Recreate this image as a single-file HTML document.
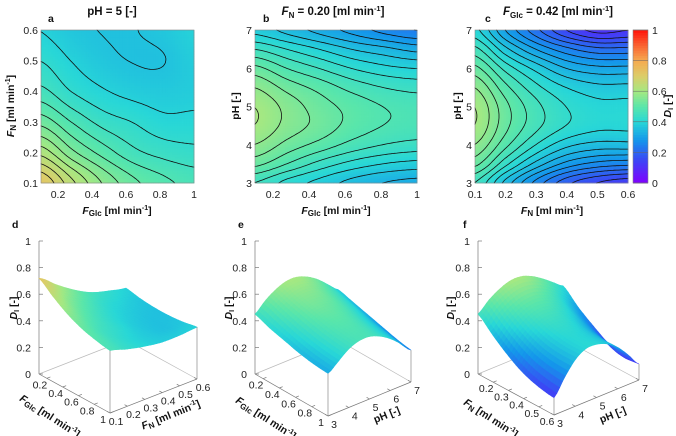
<!DOCTYPE html>
<html><head><meta charset="utf-8">
<style>
body{margin:0;background:#fff;}
svg{display:block;font-family:"Liberation Sans Narrow","Liberation Sans",sans-serif;}
.t{font-size:10.5px;fill:#222;}
.b{font-weight:bold;font-size:11.5px;fill:#111;}
.l{font-weight:bold;font-size:10.5px;fill:#111;}
</style></head><body>
<svg id="fig" width="676" height="436" viewBox="0 0 676 436">
<g id="marks"></g>
<g id="axes"></g>
<text class="b" x="112" y="15" text-anchor="middle">pH = 5 [-]</text>
<text class="b" x="333" y="15" text-anchor="middle"><tspan font-style="italic">F</tspan><tspan font-size="8" dy="3">N</tspan><tspan dy="-3"> = 0.20 [ml min</tspan><tspan font-size="7.5" dy="-4">-1</tspan><tspan dy="4">]</tspan></text>
<text class="b" x="558" y="15" text-anchor="middle"><tspan font-style="italic">F</tspan><tspan font-size="8" dy="3">Glc</tspan><tspan dy="-3"> = 0.42 [ml min</tspan><tspan font-size="7.5" dy="-4">-1</tspan><tspan dy="4">]</tspan></text>
<text class="l" x="48" y="22">a</text>
<text class="l" x="263" y="22">b</text>
<text class="l" x="485" y="22">c</text>
<text class="l" x="12" y="228">d</text>
<text class="l" x="238" y="228">e</text>
<text class="l" x="463" y="228">f</text>
<text class="l" x="117" y="214" text-anchor="middle"><tspan font-style="italic">F</tspan><tspan font-size="8" dy="2">Glc</tspan><tspan dy="-2"> [ml min</tspan><tspan font-size="7" dy="-4">-1</tspan><tspan dy="4">]</tspan></text>
<text class="l" x="336" y="214" text-anchor="middle"><tspan font-style="italic">F</tspan><tspan font-size="8" dy="2">Glc</tspan><tspan dy="-2"> [ml min</tspan><tspan font-size="7" dy="-4">-1</tspan><tspan dy="4">]</tspan></text>
<text class="l" x="552" y="214" text-anchor="middle"><tspan font-style="italic">F</tspan><tspan font-size="8" dy="2">N</tspan><tspan dy="-2"> [ml min</tspan><tspan font-size="7" dy="-4">-1</tspan><tspan dy="4">]</tspan></text>
<text class="l" transform="translate(14,106) rotate(-90)" text-anchor="middle"><tspan font-style="italic">F</tspan><tspan font-size="8" dy="2">N</tspan><tspan dy="-2"> [ml min</tspan><tspan font-size="7" dy="-4">-1</tspan><tspan dy="4">]</tspan></text>
<text class="l" transform="translate(239,106) rotate(-90)" text-anchor="middle">pH [-]</text>
<text class="l" transform="translate(461,106) rotate(-90)" text-anchor="middle">pH [-]</text>
<text class="l" transform="translate(671,106) rotate(-90)" text-anchor="middle"><tspan font-style="italic">D</tspan><tspan font-size="7" dy="2">I</tspan><tspan dy="-2"> [-]</tspan></text>
<text class="l" transform="translate(17,308) rotate(-90)" text-anchor="middle"><tspan font-style="italic">D</tspan><tspan font-size="7" dy="2">I</tspan><tspan dy="-2"> [-]</tspan></text>
<text class="l" transform="translate(232,308) rotate(-90)" text-anchor="middle"><tspan font-style="italic">D</tspan><tspan font-size="7" dy="2">I</tspan><tspan dy="-2"> [-]</tspan></text>
<text class="l" transform="translate(454,308) rotate(-90)" text-anchor="middle"><tspan font-style="italic">D</tspan><tspan font-size="7" dy="2">I</tspan><tspan dy="-2"> [-]</tspan></text>
<text class="l" transform="translate(48,419) rotate(33)" text-anchor="middle"><tspan font-style="italic">F</tspan><tspan font-size="8" dy="2">Glc</tspan><tspan dy="-2"> [ml min</tspan><tspan font-size="7" dy="-4">-1</tspan><tspan dy="4">]</tspan></text>
<text class="l" transform="translate(172,418) rotate(-22)" text-anchor="middle"><tspan font-style="italic">F</tspan><tspan font-size="8" dy="2">N</tspan><tspan dy="-2"> [ml min</tspan><tspan font-size="7" dy="-4">-1</tspan><tspan dy="4">]</tspan></text>
<text class="l" transform="translate(264,421) rotate(33)" text-anchor="middle"><tspan font-style="italic">F</tspan><tspan font-size="8" dy="2">Glc</tspan><tspan dy="-2"> [ml min</tspan><tspan font-size="7" dy="-4">-1</tspan><tspan dy="4">]</tspan></text>
<text class="l" transform="translate(388,418) rotate(-22)" text-anchor="middle">pH [-]</text>
<text class="l" transform="translate(489,421) rotate(33)" text-anchor="middle"><tspan font-style="italic">F</tspan><tspan font-size="8" dy="2">N</tspan><tspan dy="-2"> [ml min</tspan><tspan font-size="7" dy="-4">-1</tspan><tspan dy="4">]</tspan></text>
<text class="l" transform="translate(614,418) rotate(-22)" text-anchor="middle">pH [-]</text>
</svg>
<script>
const fGlcVals=[0.1,0.28,0.46,0.64,0.82,1.0];
const fNValsA=[0.1,0.2,0.3,0.4,0.5,0.6];
const fNValsC=[0.1,0.2,0.3,0.4,0.5,0.6];
const pHVals=[3,3.5,4,4.5,5,5.5,6,6.5,7];
const surfA=[
[0.72,0.64,0.57,0.52,0.49,0.47],
[0.62,0.55,0.50,0.46,0.44,0.43],
[0.53,0.48,0.44,0.42,0.40,0.40],
[0.46,0.42,0.395,0.38,0.375,0.38],
[0.42,0.39,0.37,0.36,0.36,0.38],
[0.39,0.37,0.36,0.36,0.37,0.39]];
const surfB=[
[0.45,0.41,0.38,0.35,0.33,0.32],
[0.52,0.48,0.44,0.41,0.39,0.38],
[0.57,0.53,0.50,0.47,0.45,0.44],
[0.60,0.56,0.53,0.50,0.48,0.47],
[0.60,0.56,0.525,0.50,0.48,0.47],
[0.57,0.53,0.50,0.47,0.45,0.44],
[0.52,0.48,0.45,0.42,0.40,0.39],
[0.45,0.42,0.39,0.36,0.34,0.32],
[0.38,0.35,0.32,0.29,0.26,0.24]];
const surfC=[
[0.45,0.35,0.26,0.19,0.15,0.13],
[0.52,0.43,0.35,0.29,0.26,0.25],
[0.57,0.49,0.42,0.37,0.35,0.35],
[0.60,0.52,0.46,0.42,0.40,0.40],
[0.60,0.52,0.46,0.42,0.40,0.40],
[0.57,0.49,0.43,0.39,0.37,0.37],
[0.52,0.44,0.38,0.33,0.31,0.31],
[0.46,0.37,0.30,0.25,0.22,0.22],
[0.40,0.30,0.22,0.15,0.11,0.12]];
const contourLevels=[];for(let k=1;k<34;k++)contourLevels.push(+(k*0.03+0.001).toFixed(3));
const ticksGlc=[0.2,0.4,0.6,0.8,1];
const ticksN=[0.1,0.2,0.3,0.4,0.5,0.6];
const ticksPH=[3,4,5,6,7];
const ticksZ=[0,0.2,0.4,0.6,0.8,1];

const NS="http://www.w3.org/2000/svg";
const marks=document.getElementById('marks'), axes=document.getElementById('axes');
function mk(tag,attrs,parent){const e=document.createElementNS(NS,tag);for(const k in attrs)e.setAttribute(k,attrs[k]);(parent||marks).appendChild(e);return e;}
const stops=[[0,[128,0,255]],[0.15,[60,70,245]],[0.28,[20,150,235]],[0.4,[40,215,215]],[0.5,[90,230,170]],[0.6,[165,232,130]],[0.7,[220,205,105]],[0.8,[245,170,80]],[0.9,[250,100,50]],[1,[255,20,10]]];
function cmap(v){v=Math.max(0,Math.min(1,v));for(let i=1;i<stops.length;i++){if(v<=stops[i][0]){const a=stops[i-1],b=stops[i],t=(v-a[0])/(b[0]-a[0]);return 'rgb('+a[1].map((c,j)=>Math.round(c+(b[1][j]-c)*t)).join(',')+')';}}return 'rgb(255,20,10)';}
function cr(p0,p1,p2,p3,t){return 0.5*(2*p1+(-p0+p2)*t+(2*p0-5*p1+4*p2-p3)*t*t+(-p0+3*p1-3*p2+p3)*t*t*t);}
function sample(g,gx,gy){const nr=g.length,nc=g[0].length;const ix=Math.min(Math.floor(gx),nc-2),iy=Math.min(Math.floor(gy),nr-2);const tx=gx-ix,ty=gy-iy;
 const cx=i=>Math.max(0,Math.min(nc-1,i)),cy=i=>Math.max(0,Math.min(nr-1,i));const r=[];
 for(let k=-1;k<=2;k++){const row=g[cy(iy+k)];r.push(cr(row[cx(ix-1)],row[cx(ix)],row[cx(ix+1)],row[cx(ix+2)],tx));}
 return cr(r[0],r[1],r[2],r[3],ty);}
function val(g,u,v){return sample(g,u*(g[0].length-1),v*(g.length-1));}

function panel2D(g,L,R,T,B,name,xt,xmin,xmax,yt,ymin,ymax){
 const W=R-L,H=B-T,N=64;
 const gp=mk('g',{});
 
 
 const cw=W/N,ch=H/N;
 for(let i=0;i<N;i++)for(let j=0;j<N;j++){
  const r=mk('rect',{x:(L+i*cw).toFixed(2),y:(B-(j+1)*ch).toFixed(2),width:(cw+0.4).toFixed(2),height:(ch+0.4).toFixed(2),fill:cmap(val(g,(i+0.5)/N,(j+0.5)/N))},gp);
  
  
 }
 const M=80,V=[];for(let j=0;j<=M;j++){V.push([]);for(let i=0;i<=M;i++)V[j].push(val(g,i/M,j/M));}
 let d='';const px=i=>L+i/M*W,py=j=>B-j/M*H;
 for(const lv of contourLevels){for(let j=0;j<M;j++)for(let i=0;i<M;i++){
  const a=V[j][i],b=V[j][i+1],c=V[j+1][i+1],e=V[j+1][i];const pts=[];
  const ed=(v1,v2,x1,y1,x2,y2)=>{if((v1>=lv)!==(v2>=lv)){const t=(lv-v1)/(v2-v1);pts.push([x1+(x2-x1)*t,y1+(y2-y1)*t]);}};
  ed(a,b,px(i),py(j),px(i+1),py(j));ed(b,c,px(i+1),py(j),px(i+1),py(j+1));ed(c,e,px(i+1),py(j+1),px(i),py(j+1));ed(e,a,px(i),py(j+1),px(i),py(j));
  for(let k=0;k+1<pts.length;k+=2)d+='M'+pts[k][0].toFixed(1)+' '+pts[k][1].toFixed(1)+'L'+pts[k+1][0].toFixed(1)+' '+pts[k+1][1].toFixed(1);
 }}
 const cp=mk('path',{d:d,stroke:'#111',fill:'none','stroke-width':0.8,'stroke-linecap':'round'});
 
 
 const fr=mk('rect',{x:L,y:T,width:W,height:H,fill:'none',stroke:'#888','stroke-width':0.6},axes);
 
 
 for(const v of xt){const x=L+(v-xmin)/(xmax-xmin)*W;
  const t=mk('text',{x:x,y:B+15,'text-anchor':'middle',class:'t'},axes);t.textContent=String(v);
  
  }
 for(const v of yt){const y=B-(v-ymin)/(ymax-ymin)*H;
  const t=mk('text',{x:L-3,y:y+4,'text-anchor':'end',class:'t'},axes);t.textContent=String(v);
  
  }
}
panel2D(surfA,41,194,30,183,'panel-a',ticksGlc,0.1,1,ticksN,0.1,0.6);
panel2D(surfB,255,417,30,183,'panel-b',ticksGlc,0.1,1,ticksPH,3,7);
panel2D(surfC,475,628,30,183,'panel-c',ticksN,0.1,0.6,ticksPH,3,7);

(function(){const L=633,W=15,T=30,B=183,N=60;
 for(let j=0;j<N;j++){const r=mk('rect',{x:L,y:(B-(j+1)*(B-T)/N).toFixed(2),width:W,height:((B-T)/N+0.4).toFixed(2),fill:cmap((j+0.5)/N)});
  
  }
 const f=mk('rect',{x:L,y:T,width:W,height:B-T,fill:'none',stroke:'#888','stroke-width':0.6},axes);
 
 
 for(const v of ticksZ){const y=B-v*(B-T);
  const ln=mk('line',{x1:L,x2:L+W,y1:y,y2:y,stroke:'#666','stroke-width':0.5},axes);
  
  
  const t=mk('text',{x:L+W+4,y:y+4,class:'t'},axes);t.textContent=String(v);
  
  }
})();

function panel3D(g,O,U,Vv,name,uTicks,umin,umax,vTicks,vmin,vmax){
 const Z=133;
 const P=(u,v,z)=>[O[0]+u*U[0]+v*Vv[0],O[1]+u*U[1]+v*Vv[1]-z*Z];
 const line=(a,b,nm,col,w)=>{const l=mk('line',{x1:a[0],y1:a[1],x2:b[0],y2:b[1],stroke:col||'#777','stroke-width':w||0.7});
  
  return l;};
 line(P(0,0,0),P(0,0,1),name+'-z-axis');
 line(P(0,0,0),P(0,1,0),name+'-back-edge','#bbb');
 line(P(0,1,0),P(1,1,0),name+'-back-edge','#bbb');
 line(P(0,0,0),P(1,0,0),name+'-u-axis');
 line(P(1,0,0),P(1,1,0),name+'-v-axis');
 for(const z of ticksZ){const p=P(0,0,z);line(p,[p[0]+4,p[1]],name+'-z-tick');
  const t=mk('text',{x:p[0]-8,y:p[1]+4,'text-anchor':'end',class:'t'});t.textContent=String(z);
  
  }
 for(const v of uTicks){const u=(v-umin)/(umax-umin),p=P(u,0,0);line(p,P(u,0.04,0),name+'-u-tick');
  const t=mk('text',{x:p[0]-7,y:p[1]+10,'text-anchor':'middle',class:'t'});t.textContent=String(v);
  
  }
 for(const v of vTicks){const w=(v-vmin)/(vmax-vmin),p=P(1,w,0);line(p,P(0.96,w,0),name+'-v-tick');
  const t=mk('text',{x:p[0]+6,y:p[1]+12,'text-anchor':'middle',class:'t'});t.textContent=String(v);
  
  }
 const N=30,quads=[];
 for(let i=0;i<N;i++)for(let j=0;j<N;j++){const u0=i/N,u1=(i+1)/N,v0=j/N,v1=(j+1)/N;
  quads.push({d:(u0+u1)/2-(v0+v1)/2,u0,u1,v0,v1});}
 quads.sort((a,b)=>a.d-b.d);
 const gs=mk('g',{});
 
 
 for(const q of quads){const c=[[q.u0,q.v0],[q.u1,q.v0],[q.u1,q.v1],[q.u0,q.v1]].map(([u,v])=>P(u,v,val(g,u,v)));
  const col=cmap(val(g,(q.u0+q.u1)/2,(q.v0+q.v1)/2));
  const p=mk('polygon',{points:c.map(a=>a[0].toFixed(1)+','+a[1].toFixed(1)).join(' '),fill:col,stroke:col,'stroke-width':0.6},gs);
  
  }
 line(P(1,0,0),P(1,0,val(g,1,0)),name+'-front-edge','#888');
 line(P(1,1,0),P(1,1,val(g,1,1)),name+'-right-edge','#888');
}
panel3D(surfA,[39,374],[71,39],[87,-34],'panel-d',ticksGlc,0.1,1,ticksN,0.1,0.6);
panel3D(surfB,[255,374],[73,42],[83,-34],'panel-e',ticksGlc,0.1,1,ticksPH,3,7);
panel3D(surfC,[478,374],[76,41],[85,-35],'panel-f',[0.2,0.3,0.4,0.5,0.6],0.1,0.6,ticksPH,3,7);
</script>
</body></html>
